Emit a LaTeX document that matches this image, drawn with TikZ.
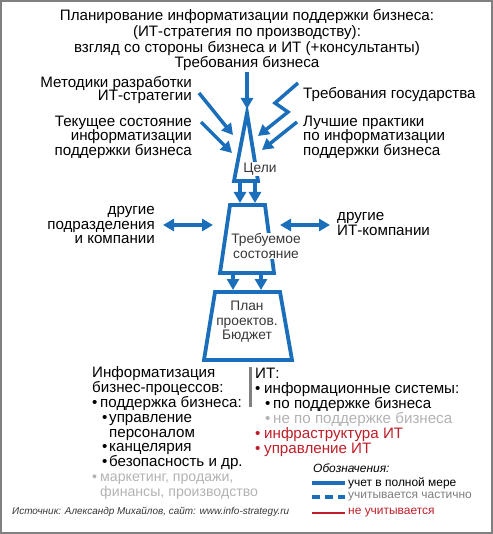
\documentclass[tikz,border=0pt]{standalone}
\usepackage{fontspec}
\setmainfont{Liberation Sans}
\usetikzlibrary{arrows.meta}
\definecolor{myblue}{RGB}{27,110,185}
\definecolor{myred}{RGB}{190,30,40}
\definecolor{mygray}{RGB}{178,178,178}
\definecolor{legray}{RGB}{125,125,125}
\definecolor{lbl}{RGB}{55,55,55}
\begin{document}
\begin{tikzpicture}[x=1bp,y=-1bp,
  txt/.style={inner sep=0pt, font=\fontsize{15.2}{15}\selectfont},
  inlbl/.style={inner sep=1pt, font=\fontsize{13.8}{14.5}\selectfont, text=lbl, fill=white, align=center},
  flow/.style={line width=3.5bp, draw=myblue, line join=miter, -{Triangle[length=11bp,width=12bp]}},
  twoway/.style={line width=3.5bp, draw=myblue, {Triangle[length=11bp,width=12bp]}-{Triangle[length=11bp,width=12bp]}},
  stage/.style={line width=3.8bp, draw=myblue, line join=miter},
  legtxt/.style={inner sep=0pt, anchor=west, font=\fontsize{12}{13}\selectfont},
]
\useasboundingbox (0,0) rectangle (493,534);
\draw[draw=gray, line width=2bp] (1,1) rectangle (492,533);

% title
\node[txt, align=center, font=\fontsize{15.2}{16.5}\selectfont] (title) at (247,32.5)
  {Планирование информатизации поддержки бизнеса:\\(ИТ-стратегия по производству):\\взгляд со стороны бизнеса и ИТ (+консультанты)};
\node[txt] (req) at (247,64) {Требования бизнеса};
\node[txt, align=right, anchor=east, font=\fontsize{15.2}{14}\selectfont] (meth) at (192,90) {Методики разработки\\ИТ-стратегии};
\node[txt, align=right, anchor=east, font=\fontsize{15.2}{14.5}\selectfont] (cur) at (192,137) {Текущее состояние\\информатизации\\поддержки бизнеса};
\node[txt, anchor=west] (gov) at (303,95) {Требования государства};
\node[txt, align=left, anchor=west, font=\fontsize{15.2}{14.5}\selectfont] (best) at (303,137) {Лучшие практики\\по информатизации\\поддержки бизнеса};
\node[txt, align=right, anchor=east] (dep) at (155,225) {другие\\подразделения\\и компании};
\node[txt, align=left, anchor=west] (itc) at (337,224) {другие\\ИТ-компании};

% goals triangle
\coordinate (gA) at (247,113);
\coordinate (gR) at (258,181);
\coordinate (gL) at (234,181);
\draw[stage] (gA) -- (gR) -- (gL) -- cycle;
\node[inlbl] (goals) at (260,169) {Цели};

% required state trapezoid
\coordinate (sTL) at (230,205);
\coordinate (sTR) at (265,205);
\coordinate (sBR) at (274,273);
\coordinate (sBL) at (220,273);
\draw[stage] (sTL) -- (sTR) -- (sBR) -- (sBL) -- cycle;
\node[inlbl] (state) at (266,246) {Требуемое\\состояние};

% plan trapezoid
\coordinate (pTL) at (215,292);
\coordinate (pTR) at (280,292);
\coordinate (pBR) at (292,360);
\coordinate (pBL) at (204,360);
\draw[stage] (pTL) -- (pTR) -- (pBR) -- (pBL) -- cycle;
\node[inlbl, fill=none] (plan) at (247,322) {План\\проектов.\\Бюджет};

% incoming arrows
\coordinate (reqEnd) at (247,109);
\draw[flow] (247,72) -- (reqEnd);
\coordinate (methS) at (199,93);
\coordinate (methE) at (233,135);
\draw[flow] (methS) -- (methE);
\coordinate (curS) at (201,122);
\coordinate (curE) at (232,153);
\draw[flow] (curS) -- (curE);
\coordinate (govS) at (298,83);
\coordinate (govA) at (275,103);
\coordinate (govB) at (288,112);
\coordinate (govE) at (258,136);
\draw[flow] (govS) -- (govA) -- (govB) -- (govE);
\coordinate (bestS) at (297,122);
\coordinate (bestE) at (262,150);
\draw[flow] (bestS) -- (bestE);

% goals -> state
\coordinate (g1) at (240,181);
\coordinate (g2) at (255,181);
\coordinate (s1) at (240,203);
\coordinate (s2) at (255,203);
\draw[flow] (g1) -- (s1);
\draw[flow] (g2) -- (s2);
% state -> plan
\coordinate (t1) at (233,273);
\coordinate (t2) at (261,273);
\coordinate (p1) at (233,290);
\coordinate (p2) at (261,290);
\draw[flow] (t1) -- (p1);
\draw[flow] (t2) -- (p2);

% two-way arrows
\coordinate (lA) at (163,225);
\coordinate (lB) at (213,225);
\draw[twoway] (lA) -- (lB);
\coordinate (rA) at (280,225);
\coordinate (rB) at (330,225);
\draw[twoway] (rA) -- (rB);

% bottom left list
\node[txt, align=left, anchor=west] (bizlist) at (92,433) {Информатизация\\бизнес-процессов:\\
\makebox[8bp][l]{•}поддержка бизнеса:\\
\hspace{10bp}\makebox[7bp][l]{•}управление\\
\hspace{17bp}персоналом\\
\hspace{10bp}\makebox[7bp][l]{•}канцелярия\\
\hspace{10bp}\makebox[7bp][l]{•}безопасность и др.\\
{\color{mygray}\fontsize{14.2}{15}\selectfont\makebox[8bp][l]{•}маркетинг, продажи,}\\
{\color{mygray}\fontsize{14.2}{15}\selectfont\hspace{8bp}финансы, производство}};

% separator bar
\coordinate (barT) at (250,367);
\coordinate (barB) at (250,407);
\draw[draw=gray, line width=3bp] (barT) -- (barB);

% bottom right list
\node[txt, align=left, anchor=west] (itlist) at (255,412) {ИТ:\\
\makebox[9bp][l]{•}информационные системы:\\
\hspace{10bp}\makebox[8bp][l]{•}по поддержке бизнеса\\
{\color{mygray}\hspace{10bp}\makebox[8bp][l]{•}не по поддержке бизнеса}\\
{\color{myred}\makebox[9bp][l]{•}инфраструктура ИТ}\\
{\color{myred}\makebox[9bp][l]{•}управление ИТ}};

% legend
\node[legtxt, font=\fontsize{12}{13}\selectfont\itshape] (legtitle) at (313,468) {Обозначения:};
\coordinate (l1a) at (312,483);
\coordinate (l1b) at (345,483);
\draw[draw=myblue, line width=3.5bp] (l1a) -- (l1b);
\node[legtxt] (leg1) at (348,483) {учет в полной мере};
\coordinate (l2a) at (312,497);
\coordinate (l2b) at (345,497);
\draw[draw=myblue, line width=3.5bp, dash pattern=on 8bp off 5bp] (l2a) -- (l2b);
\node[legtxt, text=legray] (leg2) at (348,497) {учитывается частично};
\coordinate (l3a) at (312,513);
\coordinate (l3b) at (345,513);
\draw[draw=myred, line width=1.2bp] (l3a) -- (l3b);
\node[legtxt, text=myred] (leg3) at (348,513) {не учитывается};

% source
\node[inner sep=0pt, anchor=west, font=\fontsize{10}{12}\selectfont\itshape, text=lbl] (src) at (12,512) {Источник: Александр Михайлов, сайт: www.info-strategy.ru};
\end{tikzpicture}
\end{document}
